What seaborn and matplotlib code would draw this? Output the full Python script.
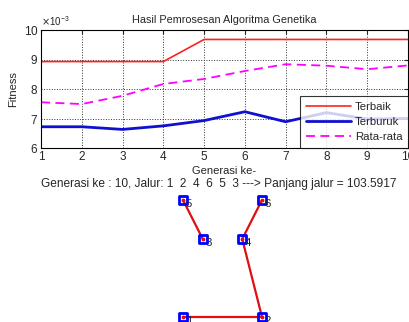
import matplotlib
matplotlib.use("Agg")
import matplotlib.pyplot as plt
import seaborn as sns
import pandas as pd

# data
generasi = [1, 2, 3, 4, 5, 6, 7, 8, 9, 10]
terbaik = [8.93, 8.93, 8.93, 8.93, 9.68, 9.68, 9.68, 9.68, 9.68, 9.68]
terburuk = [6.72, 6.72, 6.63, 6.75, 6.93, 7.23, 6.89, 7.20, 6.98, 7.00]
rata_rata = [7.55, 7.49, 7.77, 8.17, 8.34, 8.61, 8.84, 8.79, 8.67, 8.80]

kota = [1, 2, 3, 4, 5, 6]
kota_x = [0, 4, 1, 3, 0, 4]
kota_y = [0, 0, 4, 4, 6, 6]
jalur = [1, 2, 4, 6, 5, 3]
sisi_terlihat = [(1, 2), (2, 4), (4, 6), (5, 3)]
panjang_jalur = 103.5917

sns.set_style("white")
plt.rcParams['font.family'] = ['Liberation Sans', 'DejaVu Sans']

df = pd.DataFrame({
    'Generasi': generasi,
    'Terbaik': [v * 1e-3 for v in terbaik],
    'Terburuk': [v * 1e-3 for v in terburuk],
    'Rata-rata': [v * 1e-3 for v in rata_rata],
})

W, H = 410, 322
fig = plt.figure(figsize=(W / 100, H / 100), dpi=100)

# grafik fitness
ax = fig.add_axes([41 / W, 1 - 148 / H, 367 / W, 118 / H])
sns.lineplot(data=df, x='Generasi', y='Terbaik', ax=ax, color='#ff2020', lw=1.2, label='Terbaik')
sns.lineplot(data=df, x='Generasi', y='Terburuk', ax=ax, color='#1010d0', lw=2, label='Terburuk')
sns.lineplot(data=df, x='Generasi', y='Rata-rata', ax=ax, color='#ff00ff', lw=1.3,
             linestyle=(0, (5, 3)), label='Rata-rata')
ax.set_xlim(1, 10)
ax.set_ylim(6e-3, 10e-3)
ax.set_xticks(generasi)
ax.set_yticks([6e-3, 7e-3, 8e-3, 9e-3, 10e-3])
ax.ticklabel_format(axis='y', style='sci', scilimits=(-3, -3), useMathText=True)
ax.yaxis.get_offset_text().set_fontsize(7)
ax.grid(True, color='#333333', linestyle=':', lw=0.7)
ax.tick_params(direction='in', top=True, right=True, labelsize=8.5, length=3, pad=2)
for s in ax.spines.values():
    s.set_color('black')
    s.set_linewidth(0.8)
ax.set_title('Hasil Pemrosesan Algoritma Genetika', fontsize=7.8, pad=5)
ax.set_xlabel('Generasi ke-', fontsize=8, labelpad=2)
ax.set_ylabel('Fitness', fontsize=8, labelpad=4)
leg = ax.legend(loc='lower right', fontsize=8.2, frameon=True, fancybox=False,
                borderaxespad=0, handlelength=4.0, handletextpad=0.3,
                labelspacing=0.45, borderpad=0.5)
leg.get_frame().set_edgecolor('black')
leg.get_frame().set_linewidth(0.8)

teks_jalur = '  '.join(str(k) for k in jalur)
fig.text(219 / W, 1 - 184 / H,
         f'Generasi ke : {generasi[-1]}, Jalur: {teks_jalur} ---> Panjang jalur = {panjang_jalur}',
         ha='center', va='center', fontsize=8.6)

# peta rute
ax2 = fig.add_axes([183 / W, 5 / H, 79 / W, 117 / H])
pos = {k: (x, y) for k, x, y in zip(kota, kota_x, kota_y)}
for a, b in sisi_terlihat:
    ax2.plot([pos[a][0], pos[b][0]], [pos[a][1], pos[b][1]], color='#e01010', lw=1.6,
             clip_on=False)
sns.scatterplot(x=kota_x, y=kota_y, ax=ax2, marker='s', s=30, facecolor='none',
                edgecolor='#0000ff', linewidth=2, clip_on=False, zorder=3)
ax2.scatter(kota_x, kota_y, s=3, color='#e01010', zorder=4, clip_on=False)
for k, x, y in zip(kota, kota_x, kota_y):
    ax2.annotate(str(k), (x, y), xytext=(2, -5), textcoords='offset points',
                 fontsize=8.2, annotation_clip=False)
ax2.set_xlim(0, 4)
ax2.set_ylim(0, 6)
ax2.axis('off')

fig.savefig('out.png', dpi=100)
